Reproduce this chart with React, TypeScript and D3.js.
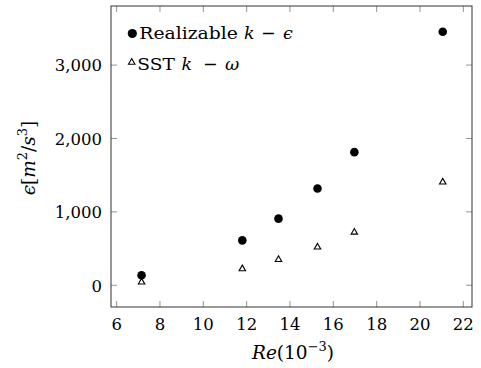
import React from 'react';
import * as d3 from 'd3';

const reValues = [7.15, 11.8, 13.47, 15.27, 16.97, 21.05];
const realizable = [136, 612, 908, 1318, 1814, 3455];
const sst = [48, 228, 355, 524, 727, 1410];
const xTicks = [6, 8, 10, 12, 14, 16, 18, 20, 22];
const yTicks = [0, 1000, 2000, 3000];

const W = 481;
const H = 368;
const margin = { left: 111, top: 6, right: 9, bottom: 61 };
const font = 'DejaVu Serif';
const fs = 16.5;
const labelFs = 18.5;

export default function App() {
  const x = d3
    .scaleLinear()
    .domain([5.74, 22.4])
    .range([margin.left, W - margin.right]);
  const y = d3
    .scaleLinear()
    .domain([-296, 3805])
    .range([H - margin.bottom, margin.top]);

  const x0 = margin.left;
  const x1 = W - margin.right;
  const y0 = H - margin.bottom;
  const y1 = margin.top;
  const fmt = d3.format(',');
  // open triangle marker
  const tri = (cx: number, cy: number, s = 3.4) =>
    `M${cx},${cy - s} L${cx + s * 0.95},${cy + s * 0.65} L${cx - s * 0.95},${cy + s * 0.65} Z`;

  return (
    <svg width={W} height={H} style={{ position: 'absolute', left: 0, top: 0, background: '#fff' }}>
      {/* ticks on all four sides */}
      {xTicks.map((t) => (
        <g key={'x' + t}>
          <line x1={x(t)} x2={x(t)} y1={y0} y2={y0 - 6} stroke="#777" strokeWidth={0.8} />
          <line x1={x(t)} x2={x(t)} y1={y1} y2={y1 + 6} stroke="#777" strokeWidth={0.8} />
          <text x={x(t)} y={329.5} textAnchor="middle" fontSize={fs} fontFamily={font}>
            {t}
          </text>
        </g>
      ))}
      {yTicks.map((t) => (
        <g key={'y' + t}>
          <line x1={x0} x2={x0 + 6} y1={y(t)} y2={y(t)} stroke="#777" strokeWidth={0.8} />
          <line x1={x1} x2={x1 - 6} y1={y(t)} y2={y(t)} stroke="#777" strokeWidth={0.8} />
          <text x={102} y={y(t) + 6.3} textAnchor="end" fontSize={fs} fontFamily={font}>
            {fmt(t)}
          </text>
        </g>
      ))}
      <rect x={x0} y={y1} width={x1 - x0} height={y0 - y1} fill="none" stroke="#333" strokeWidth={1} />

      {/* data */}
      {reValues.map((r, i) => (
        <circle key={'c' + i} cx={x(r)} cy={y(realizable[i])} r={4.3} fill="#000" />
      ))}
      {reValues.map((r, i) => (
        <path key={'t' + i} d={tri(x(r), y(sst[i]))} fill="none" stroke="#000" strokeWidth={1.1} />
      ))}

      {/* legend */}
      <circle cx={132.3} cy={33.5} r={4.6} fill="#000" />
      <text y={38.7} fontSize={17.5} fontFamily={font}>
        <tspan x={139.3} textLength={98.5} lengthAdjust="spacingAndGlyphs">
          Realizable
        </tspan>
        <tspan x={244} fontStyle="italic">
          k
        </tspan>
        <tspan x={261}>−</tspan>
        <tspan x={283} fontStyle="italic">
          ϵ
        </tspan>
      </text>
      <path d={tri(131.7, 62)} fill="none" stroke="#000" strokeWidth={1.1} />
      <text y={69.7} fontSize={17.5} fontFamily={font}>
        <tspan x={137.3} textLength={37.5} lengthAdjust="spacingAndGlyphs">
          SST
        </tspan>
        <tspan x={181.5} fontStyle="italic">
          k
        </tspan>
        <tspan x={203}>−</tspan>
        <tspan x={225} fontStyle="italic">
          ω
        </tspan>
      </text>

      {/* axis labels */}
      <text x={293} y={359} textAnchor="middle" fontSize={labelFs} fontFamily={font}>
        <tspan fontStyle="italic">Re</tspan>(10
        <tspan dy={-8} fontSize={13}>
          −3
        </tspan>
        <tspan dy={8}>)</tspan>
      </text>
      <text
        transform="translate(35,158) rotate(-90)"
        textAnchor="middle"
        fontSize={labelFs}
        fontFamily={font}
      >
        <tspan fontStyle="italic">ϵ</tspan>[<tspan fontStyle="italic">m</tspan>
        <tspan dy={-8} fontSize={13}>
          2
        </tspan>
        <tspan dy={8}>/</tspan>
        <tspan fontStyle="italic">s</tspan>
        <tspan dy={-8} fontSize={13}>
          3
        </tspan>
        <tspan dy={8}>]</tspan>
      </text>
    </svg>
  );
}
